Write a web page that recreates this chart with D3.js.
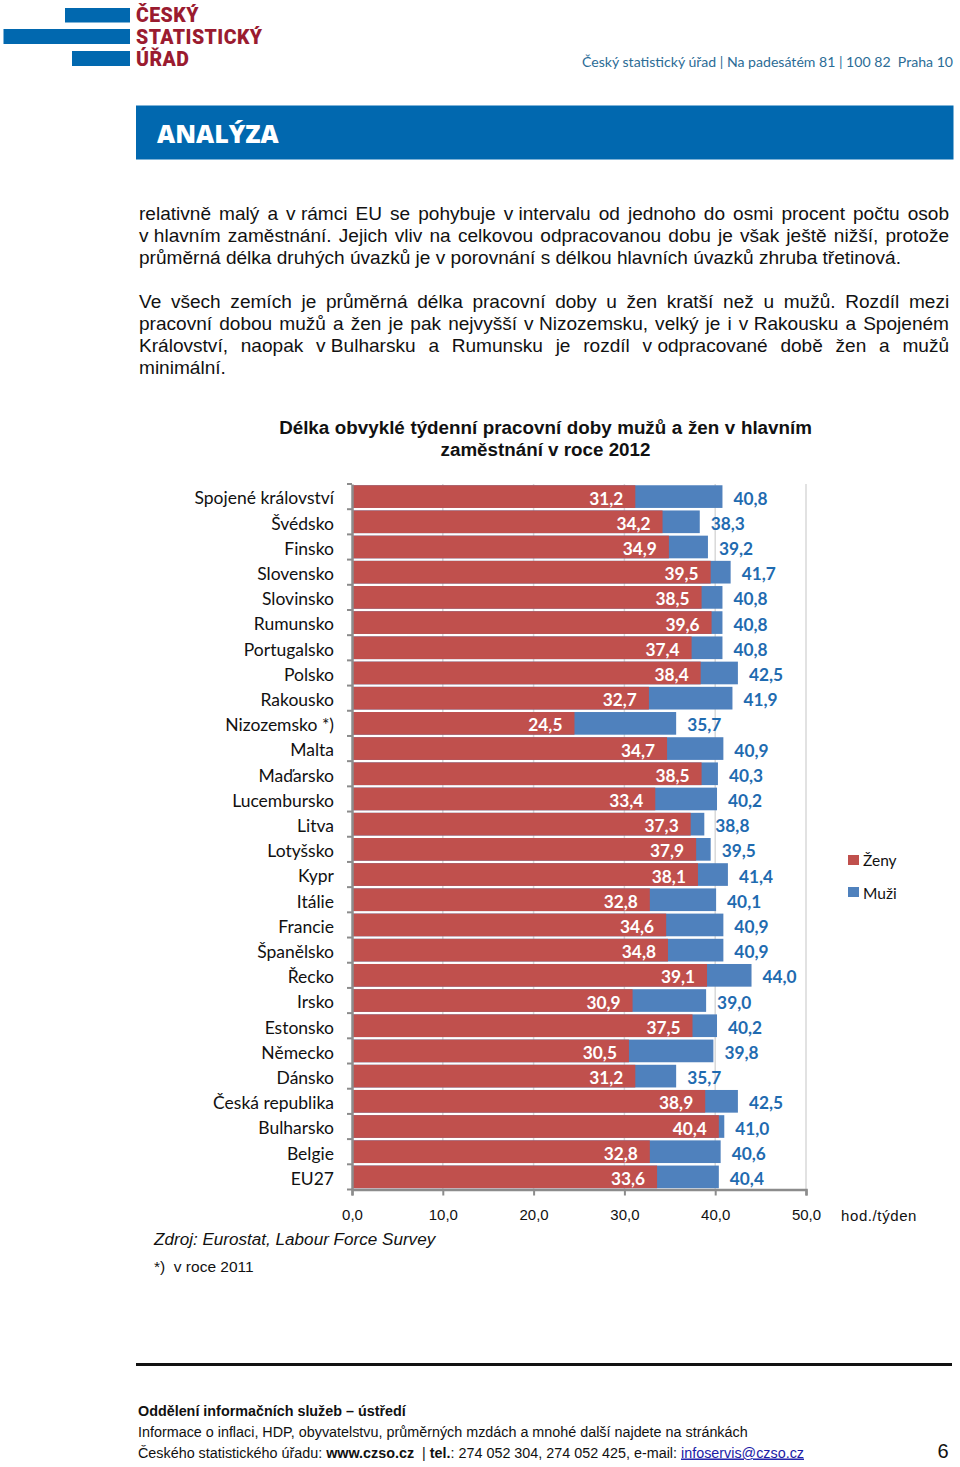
<!DOCTYPE html>
<html lang="cs">
<head>
<meta charset="utf-8">
<title>Délka obvyklé týdenní pracovní doby</title>
<script src="https://cdn.jsdelivr.net/npm/d3@7"></script>
<style>
  html, body { margin: 0; padding: 0; background: #fff; }
  svg { display: block; }
  text { font-family: "Liberation Sans", Arial, sans-serif; }
</style>
</head>
<body>
<svg id="page" width="960" height="1467"></svg>
<script>
// Chart data, top to bottom
const countries = ["Spojené království", "Švédsko", "Finsko", "Slovensko", "Slovinsko", "Rumunsko",
  "Portugalsko", "Polsko", "Rakousko", "Nizozemsko *)", "Malta", "Maďarsko", "Lucembursko", "Litva",
  "Lotyšsko", "Kypr", "Itálie", "Francie", "Španělsko", "Řecko", "Irsko", "Estonsko", "Německo",
  "Dánsko", "Česká republika", "Bulharsko", "Belgie", "EU27"];
const women = [31.2, 34.2, 34.9, 39.5, 38.5, 39.6, 37.4, 38.4, 32.7, 24.5, 34.7, 38.5, 33.4, 37.3,
  37.9, 38.1, 32.8, 34.6, 34.8, 39.1, 30.9, 37.5, 30.5, 31.2, 38.9, 40.4, 32.8, 33.6];
const men = [40.8, 38.3, 39.2, 41.7, 40.8, 40.8, 40.8, 42.5, 41.9, 35.7, 40.9, 40.3, 40.2, 38.8,
  39.5, 41.4, 40.1, 40.9, 40.9, 44.0, 39.0, 40.2, 39.8, 35.7, 42.5, 41.0, 40.6, 40.4];
const xTicks = [0, 10, 20, 30, 40, 50];
const legendItems = ["Ženy", "Muži"];

// Page text, \u00A0 keeps a preposition tight to its word
const para1 = [
  "relativně malý a v\u00A0rámci EU se pohybuje v\u00A0intervalu od jednoho do osmi procent počtu osob",
  "v\u00A0hlavním zaměstnání. Jejich vliv na celkovou odpracovanou dobu je však ještě nižší, protože",
  "průměrná délka druhých úvazků je v\u00A0porovnání s\u00A0délkou hlavních úvazků zhruba třetinová."
];
const para2 = [
  "Ve všech zemích je průměrná délka pracovní doby u žen kratší než u mužů. Rozdíl mezi",
  "pracovní dobou mužů a žen je pak nejvyšší v\u00A0Nizozemsku, velký je i v\u00A0Rakousku a Spojeném",
  "Království, naopak v\u00A0Bulharsku a Rumunsku je rozdíl v\u00A0odpracované době žen a mužů",
  "minimální."
];
const titleLines = ["Délka obvyklé týdenní pracovní doby mužů a žen v hlavním", "zaměstnání v roce 2012"];

const svg = d3.select("#page");
const red = "#C0504D", blue = "#4F81BD", navy = "#0168AF";
const calibri = "Lato, 'Open Sans', sans-serif";

// Logo and header
[[65, 8, 65, 14.5], [3.5, 29, 126.5, 15], [72, 51, 58, 15]].forEach(d => {
  svg.append("rect").attr("x", d[0]).attr("y", d[1]).attr("width", d[2]).attr("height", d[3]).attr("fill", navy);
});
[["ČESKÝ", 22], ["STATISTICKÝ", 43.5], ["ÚŘAD", 65.5]].forEach(d => {
  svg.append("text").attr("x", 136).attr("y", d[1]).text(d[0])
    .style("font-family", "Roboto, sans-serif").style("font-weight", 900).style("font-size", "19.5px")
    .style("letter-spacing", "0.45px").attr("fill", "#9A1B30");
});
svg.append("text").attr("x", 953).attr("y", 66.5).attr("text-anchor", "end")
  .text("Český statistický úřad | Na padesátém 81 | 100 82  Praha 10")
  .attr("xml:space", "preserve")
  .style("font-family", calibri).style("font-size", "14.1px").attr("fill", "#2B6C96");
svg.append("rect").attr("x", 136).attr("y", 105.5).attr("width", 817.5).attr("height", 54).attr("fill", navy);
svg.append("text").attr("x", 157).attr("y", 143).text("ANALÝZA")
  .style("font-family", "'Open Sans', sans-serif").style("font-weight", 800).style("font-size", "25px")
  .attr("fill", "#fff");

// Justify a line by stretching only the plain spaces between words
function textLine(str, px, y, width) {
  const t = svg.append("text").attr("x", 139).attr("y", y).attr("fill", "#111")
    .attr("xml:space", "preserve").style("font-size", px + "px");
  const parts = str.split(" ");
  parts.forEach((p, i) => {
    t.append("tspan").style("word-spacing", "0px").text(p);
    if (i < parts.length - 1) t.append("tspan").attr("class", "gap").text(" ");
  });
  if (width) {
    const extra = (width - t.node().getComputedTextLength()) / (parts.length - 1);
    t.selectAll(".gap").style("word-spacing", extra + "px");
  }
}
para1.forEach((s, i) => textLine(s, 19.07, 220 + i * 22, i < 2 ? 810 : null));
para2.forEach((s, i) => textLine(s, 19.07, 308 + i * 22, i < 3 ? 810 : null));

// Chart title
titleLines.forEach((s, i) => {
  svg.append("text").attr("x", 545.5).attr("y", 434 + i * 21.5).attr("text-anchor", "middle")
    .style("font-weight", "bold").style("font-size", "18.8px")
    .style("word-spacing", i === 0 ? "0.4px" : "0px").attr("fill", "#111").text(s);
});

// Scales
const x = d3.scaleLinear().domain([0, 50]).range([352, 806]);
const y = d3.scaleBand().domain(countries).range([484, 1189.5]).paddingInner(0.1).paddingOuter(0.05);
const decimalComma = d3.formatLocale({ decimal: ",", thousands: " ", grouping: [3], currency: ["", ""] }).format(".1f");

// Grid lines behind the bars
svg.append("g").selectAll("line").data(xTicks.slice(1)).join("line")
  .attr("x1", d => x(d)).attr("x2", d => x(d)).attr("y1", 484).attr("y2", 1189.5)
  .attr("stroke", "#D9D9D9").attr("stroke-width", 1.5);

// Men behind, women in front
svg.append("g").selectAll("rect").data(countries).join("rect")
  .attr("x", x(0)).attr("y", d => y(d)).attr("height", y.bandwidth())
  .attr("width", (d, i) => x(men[i]) - x(0)).attr("fill", blue);
svg.append("g").selectAll("rect").data(countries).join("rect")
  .attr("x", x(0)).attr("y", d => y(d)).attr("height", y.bandwidth())
  .attr("width", (d, i) => x(women[i]) - x(0)).attr("fill", red);

// Value labels
svg.append("g").selectAll("text").data(countries).join("text")
  .attr("x", (d, i) => x(women[i]) - 12).attr("y", d => y(d) + y.bandwidth() / 2 + 8)
  .attr("text-anchor", "end").attr("fill", "#fff")
  .style("font-family", calibri).style("font-weight", "bold").style("font-size", "17.3px")
  .text((d, i) => decimalComma(women[i]));
svg.append("g").selectAll("text").data(countries).join("text")
  .attr("x", (d, i) => x(men[i]) + 11).attr("y", d => y(d) + y.bandwidth() / 2 + 8)
  .attr("fill", "#1F6BB0")
  .style("font-family", calibri).style("font-weight", "bold").style("font-size", "17.3px")
  .text((d, i) => decimalComma(men[i]));

// Axes
const yAxis = svg.append("g").attr("transform", `translate(${x(0)},0)`)
  .call(d3.axisLeft(y).tickSize(0).tickPadding(18));
yAxis.select(".domain").attr("stroke", "#8C8C8C").attr("stroke-width", 2.5);
yAxis.selectAll("text").attr("fill", "#111").attr("dy", "0.45em")
  .style("font-family", calibri).style("font-size", "17.5px");
svg.append("g").selectAll("line").data(d3.range(countries.length + 1)).join("line")
  .attr("x1", x(0) - 5).attr("x2", x(0))
  .attr("y1", i => 484 + i * y.step()).attr("y2", i => 484 + i * y.step())
  .attr("stroke", "#8C8C8C").attr("stroke-width", 2);

const xAxis = svg.append("g").attr("transform", "translate(0,1189.5)")
  .call(d3.axisBottom(x).tickValues(xTicks).tickFormat(decimalComma).tickSize(6).tickPadding(14));
xAxis.select(".domain").attr("stroke", "#8C8C8C").attr("stroke-width", 2.5);
xAxis.selectAll("line").attr("stroke", "#8C8C8C").attr("stroke-width", 2);
xAxis.selectAll("text").attr("fill", "#111")
  .style("font-family", "'Liberation Sans', sans-serif").style("font-size", "15px");

svg.append("text").attr("x", 841).attr("y", 1221).attr("fill", "#111").style("font-size", "15px")
  .style("letter-spacing", "0.6px").text("hod./týden");

// Legend
legendItems.forEach((name, i) => {
  const top = 855 + i * 32;
  svg.append("rect").attr("x", 848).attr("y", top).attr("width", 11).attr("height", 10)
    .attr("fill", i === 0 ? red : blue);
  svg.append("text").attr("x", 863).attr("y", top + 11 + i).attr("fill", "#111")
    .style("font-family", calibri).style("font-size", "15.5px").text(name);
});

// Source and note
svg.append("text").attr("x", 154).attr("y", 1245).attr("fill", "#111")
  .style("font-style", "italic").style("font-size", "17.1px").text("Zdroj: Eurostat, Labour Force Survey");
svg.append("text").attr("x", 154).attr("y", 1272).attr("fill", "#111")
  .style("font-size", "15.5px").text("*)  v roce 2011").attr("xml:space", "preserve");

// Footer
svg.append("rect").attr("x", 136).attr("y", 1363).attr("width", 816).attr("height", 3).attr("fill", "#111");
svg.append("text").attr("x", 138).attr("y", 1415.5).attr("fill", "#111")
  .style("font-weight", "bold").style("font-size", "14.35px").text("Oddělení informačních služeb – ústředí");
svg.append("text").attr("x", 138).attr("y", 1436.5).attr("fill", "#111")
  .style("font-size", "14.35px").text("Informace o inflaci, HDP, obyvatelstvu, průměrných mzdách a mnohé další najdete na stránkách");
const contact = svg.append("text").attr("x", 138).attr("y", 1457.5).attr("fill", "#111")
  .attr("xml:space", "preserve").style("font-size", "14.35px");
contact.append("tspan").text("Českého statistického úřadu: ");
contact.append("tspan").style("font-weight", "bold").text("www.czso.cz");
contact.append("tspan").text("  | ");
contact.append("tspan").style("font-weight", "bold").text("tel.");
contact.append("tspan").text(": 274 052 304, 274 052 425, e-mail: ");
contact.append("tspan").attr("fill", "#1A1AA6").style("text-decoration", "underline").text("infoservis@czso.cz");
svg.append("text").attr("x", 943).attr("y", 1458).attr("text-anchor", "middle").attr("fill", "#111")
  .style("font-size", "20px").text("6");
</script>
</body>
</html>
